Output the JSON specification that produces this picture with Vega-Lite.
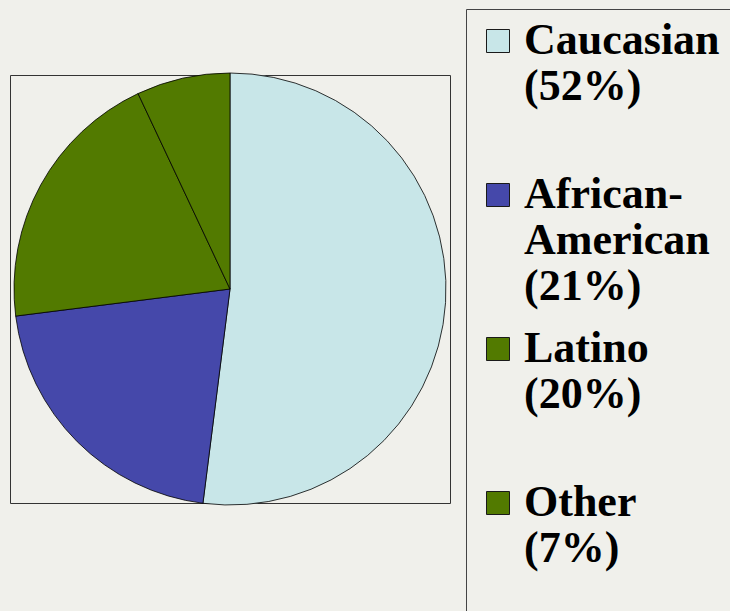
{
  "$schema": "https://vega.github.io/schema/vega-lite/v6.json",
  "background": "#f0f0eb",
  "padding": {"left": 10, "top": 8, "right": 0, "bottom": 0},
  "width": 440,
  "height": 428,
  "view": {"stroke": "#333", "strokeWidth": 1},
  "data": {
    "values": [
      {"group": "Caucasian", "share": 52, "rank": 1, "label": "Caucasian|(52%)"},
      {"group": "African-American", "share": 21, "rank": 2, "label": "African-|American|(21%)"},
      {"group": "Latino", "share": 20, "rank": 3, "label": "Latino|(20%)"},
      {"group": "Other", "share": 7, "rank": 4, "label": "Other|(7%)"}
    ]
  },
  "mark": {"type": "arc", "outerRadius": 216, "stroke": "#000", "strokeWidth": 0.8},
  "encoding": {
    "theta": {"field": "share", "type": "quantitative", "stack": true},
    "order": {"field": "rank", "type": "quantitative"},
    "color": {
      "field": "label",
      "type": "nominal",
      "sort": null,
      "scale": {
        "domain": ["Caucasian|(52%)", "African-|American|(21%)", "Latino|(20%)", "Other|(7%)"],
        "range": ["#c8e6e8", "#4548aa", "#527a00", "#527a00"]
      },
      "legend": {
        "title": null,
        "orient": "none",
        "legendX": 456,
        "legendY": -66,
        "labelExpr": "split(datum.label + (datum.label == 'Other|(7%)' ? '|' : '') + (length(split(datum.label, '|')) < 3 ? '| ' : ''), '|')",
        "symbolType": "M-1,-2.13H1V-0.13H-1Z",
        "symbolSize": 529,
        "symbolStrokeColor": "#1a1a1a",
        "symbolStrokeWidth": 1,
        "symbolOpacity": 1,
        "gridAlign": "each",
        "rowPadding": 18,
        "padding": 23,
        "symbolOffset": -13,
        "labelOffset": 4,
        "labelFont": "Liberation Serif",
        "labelFontSize": 44,
        "labelFontWeight": "bold",
        "labelColor": "#000",
        "labelLimit": 0,
        "labelBaseline": "alphabetic",
        "strokeColor": "#444"
      }
    }
  }
}
